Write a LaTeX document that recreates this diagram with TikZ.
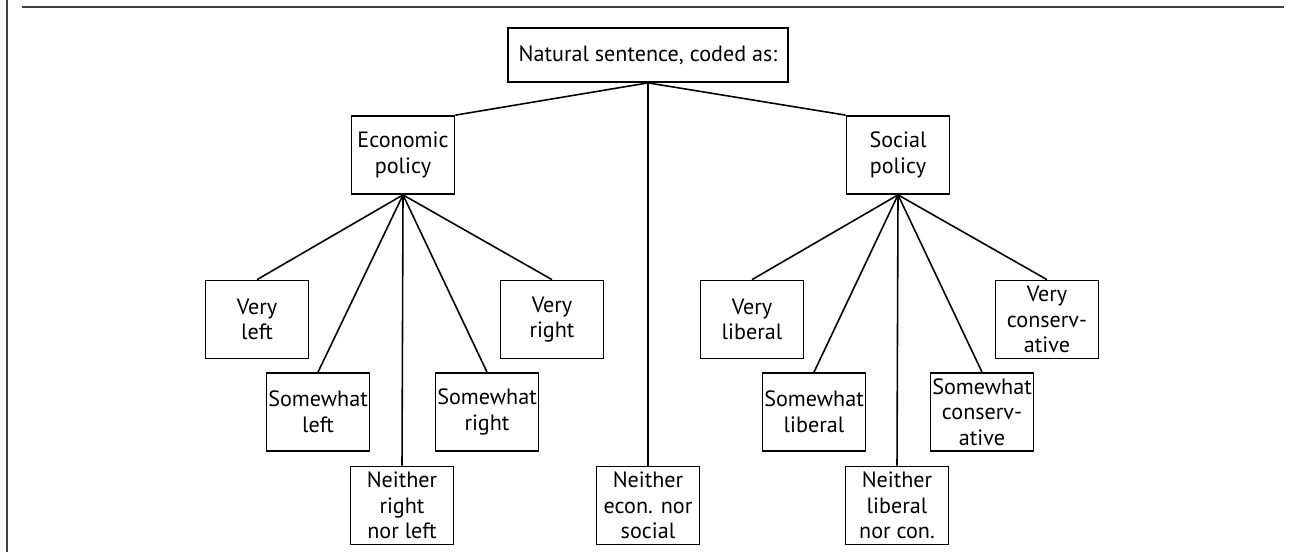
\documentclass[tikz,border=0pt]{standalone}
\usepackage{fontspec}
\setmainfont{PT Sans}
\usetikzlibrary{positioning}
\tikzset{
  box/.style={draw, line width=1pt, align=center, inner sep=1pt, minimum width=2.06cm, minimum height=1.56cm, font=\fontsize{12.6}{14.6}\selectfont},
  link/.style={line width=0.9pt}
}
\begin{document}
\begin{tikzpicture}[x=0.02cm,y=-0.02cm]
	\useasboundingbox (0,0) rectangle (1290,552);
	\draw[line width=1.1pt, black!75] (7,0) -- (7,552);
	\draw[line width=1.1pt, black!75] (22,7) -- (1284,7);
	\node[box, minimum width=5.6cm, minimum height=1.08cm] (nat) at (648,55) {Natural sentence, coded as:};
	\node[box] (econ) at (403,155) {Economic\\policy};
	\node[box] (soc) at (898,155) {Social\\policy};
	\node[box] (vleft) at (257,319.5) {Very\\left};
	\node[box] (swleft) at (318,412) {Somewhat\\left};
	\node[box] (neitherrl) at (402,505.5) {Neither\\right\\nor left};
	\node[box] (swright) at (487,412) {Somewhat\\right};
	\node[box] (vright) at (552,319.5) {Very\\right};
	\node[box] (neitheres) at (648,505.5) {Neither\\econ. nor\\social};
	\node[box] (vlib) at (752,319.5) {Very\\liberal};
	\node[box] (swlib) at (814,412) {Somewhat\\liberal};
	\node[box] (neitherlc) at (897,505.5) {Neither\\liberal\\nor con.};
	\node[box] (swcon) at (982,412) {Somewhat\\conserv-\\ative};
	\node[box] (vcon) at (1047,319.5) {Very\\conserv-\\ative};
	\draw[link] (nat.south) -- (econ.north east);
	\draw[link] (nat.south) -- (soc.north west);
	\draw[link] (nat.south) -- (neitheres.north);
	\draw[link] (econ.south) -- (vleft.north);
	\draw[link] (econ.south) -- (swleft.north);
	\draw[link] (econ.south) -- (neitherrl.north);
	\draw[link] (econ.south) -- (swright.north);
	\draw[link] (econ.south) -- (vright.north);
	\draw[link] (soc.south) -- (vlib.north);
	\draw[link] (soc.south) -- (swlib.north);
	\draw[link] (soc.south) -- (neitherlc.north);
	\draw[link] (soc.south) -- (swcon.north);
	\draw[link] (soc.south) -- (vcon.north);
\end{tikzpicture}
\end{document}
